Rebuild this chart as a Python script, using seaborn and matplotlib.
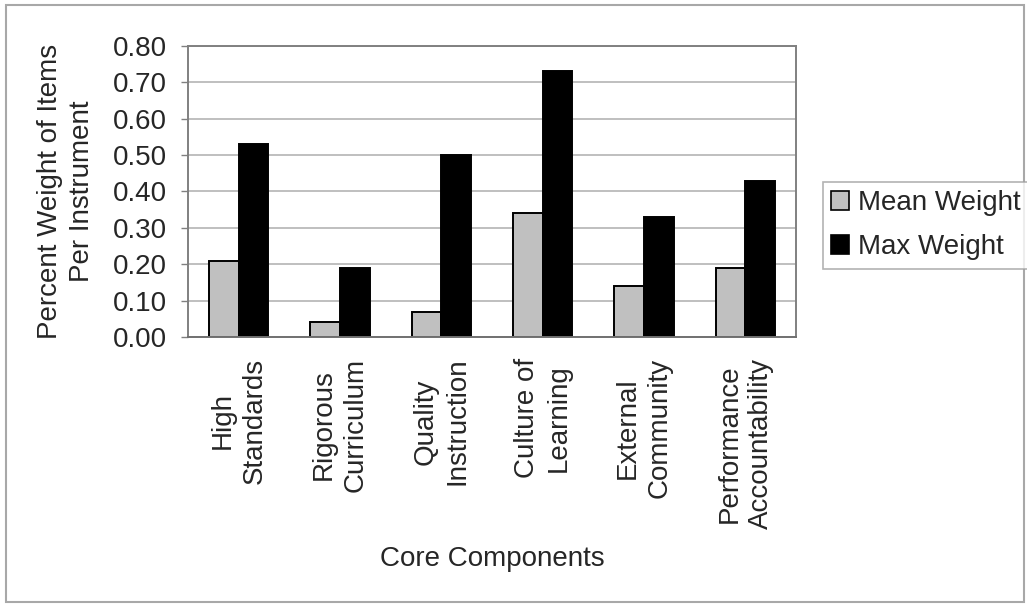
import matplotlib
matplotlib.use("Agg")
import matplotlib.pyplot as plt
from matplotlib.patches import Rectangle, Patch
import pandas as pd
import seaborn as sns

categories = ["High\nStandards", "Rigorous\nCurriculum", "Quality\nInstruction",
              "Culture of\nLearning", "External\nCommunity", "Performance\nAccountability"]
mean_weight = [0.21, 0.04, 0.07, 0.34, 0.14, 0.19]
max_weight = [0.53, 0.19, 0.50, 0.73, 0.33, 0.43]
series = ["Mean Weight", "Max Weight"]
y_ticks = [0.00, 0.10, 0.20, 0.30, 0.40, 0.50, 0.60, 0.70, 0.80]

df = pd.DataFrame({
    "component": categories * 2,
    "series": [series[0]] * len(categories) + [series[1]] * len(categories),
    "weight": mean_weight + max_weight,
})

sns.set_theme(style="white")
plt.rcParams["font.family"] = ["Liberation Sans", "DejaVu Sans"]
FS = 20

fig = plt.figure(figsize=(10.27, 6.04), dpi=100)
ax = fig.add_axes([0.183, 0.442, 0.592, 0.482])

colors = {"Mean Weight": "#c0c0c0", "Max Weight": "#000000"}
sns.barplot(data=df, x="component", y="weight", hue="series", order=categories,
            hue_order=series, palette=colors, width=0.585, dodge=True,
            edgecolor="black", linewidth=1.4, errorbar=None, ax=ax, legend=False,
            saturation=1)

ax.set_ylim(0, 0.8)
ax.set_xlim(-0.5, len(categories) - 0.5)
ax.set_yticks(y_ticks)
ax.set_yticklabels([f"{v:.2f}" for v in y_ticks], fontsize=FS)
ax.yaxis.grid(True, color="#b4b4b4", linewidth=1.2)
ax.set_axisbelow(True)

# category labels sit between boundary ticks, as in a classic office chart
ax.set_xticks(range(len(categories)))
ax.set_xticklabels(categories, rotation=90, fontsize=FS, ha="center", va="top",
                   multialignment="center", linespacing=1.3)
ax.tick_params(axis="x", length=0, pad=15)
ax.set_xticks([i - 0.5 for i in range(len(categories) + 1)], minor=True)
ax.tick_params(axis="x", which="minor", length=6, width=1, color="#808080", direction="out")
ax.tick_params(axis="y", length=5, width=1, color="#808080", direction="out", left=True, pad=10)

for side in ["top", "right", "left"]:
    ax.spines[side].set_color("#808080")
    ax.spines[side].set_linewidth(1.4)
ax.spines["bottom"].set_color("#707070")
ax.spines["bottom"].set_linewidth(1.4)

ax.set_xlabel("Core Components", fontsize=FS, labelpad=12)
ax.set_ylabel("Percent Weight of Items\nPer Instrument", fontsize=FS,
              multialignment="center", linespacing=1.3)
ax.yaxis.label.set_va("center")
ax.yaxis.set_label_coords(-0.2, 0.5)

handles = [Patch(facecolor=colors[s], edgecolor="black", linewidth=1.2, label=s) for s in series]
leg = fig.legend(handles=handles, loc="center left", bbox_to_anchor=(0.801, 0.627),
                 borderaxespad=0, fontsize=FS, frameon=True, fancybox=False,
                 handlelength=0.65, handleheight=0.65, handletextpad=0.32,
                 borderpad=0.3, labelspacing=0.65)
leg.get_frame().set_edgecolor("#a0a0a0")
leg.get_frame().set_linewidth(1.2)

# outer chart border
fig.patches.append(Rectangle((0.006, 0.003), 0.991, 0.988, transform=fig.transFigure,
                             fill=False, edgecolor="#a8a8a8", linewidth=1.5))

fig.savefig("out.png", dpi=100, facecolor="white")
